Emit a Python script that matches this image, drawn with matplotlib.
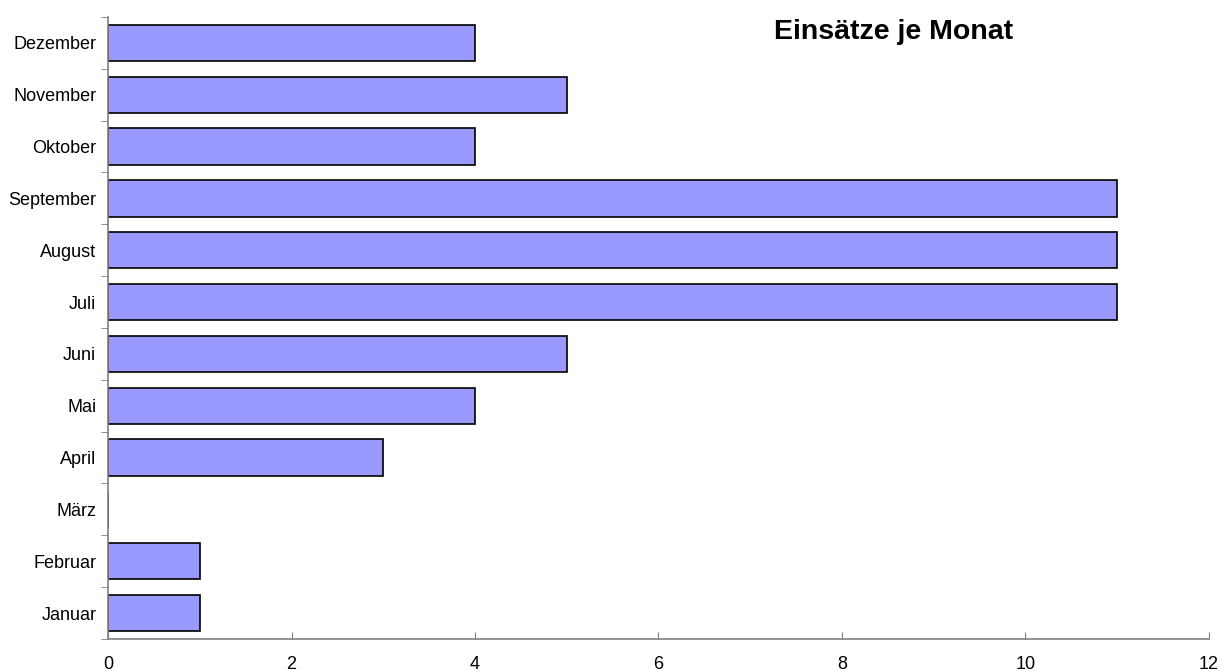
import matplotlib.pyplot as plt
import numpy as np

plt.rcParams['font.family'] = ['Liberation Sans', 'DejaVu Sans']

monate = ['Januar', 'Februar', 'März', 'April', 'Mai', 'Juni', 'Juli',
          'August', 'September', 'Oktober', 'November', 'Dezember']
einsaetze = [1, 1, 0, 3, 4, 5, 11, 11, 11, 4, 5, 4]
x_ticks = [0, 2, 4, 6, 8, 10, 12]

fig = plt.figure(figsize=(12.21, 6.71), dpi=100)
ax = fig.add_axes([0.0885, 0.0477, 0.9015, 0.927])

pos = np.arange(len(monate))
ax.barh(pos, einsaetze, height=0.7, color='#9999ff', edgecolor='black', linewidth=1.2)

ax.set_xlim(0, 12)
ax.set_ylim(-0.5, len(monate) - 0.5)
ax.set_xticks(x_ticks)
ax.set_xticklabels([str(t) for t in x_ticks], fontsize=13)

# Beschriftung in der Mitte, Striche zwischen den Kategorien
ax.set_yticks(pos)
ax.set_yticklabels(monate, fontsize=13)
ax.tick_params(axis='y', which='major', length=0, pad=8.5)
ax.set_yticks(np.arange(len(monate) + 1) - 0.5, minor=True)
ax.tick_params(axis='y', which='minor', length=5, direction='out', color='#808080')
ax.tick_params(axis='x', length=5, direction='in', color='#808080', pad=12)

for s in ['top', 'right']:
    ax.spines[s].set_visible(False)
for s in ['left', 'bottom']:
    ax.spines[s].set_color('#808080')
    ax.spines[s].set_linewidth(1.2)

fig.text(0.732, 0.953, 'Einsätze je Monat', fontsize=20.5, fontweight='bold',
         ha='center', va='center')

fig.savefig('out.png', dpi=100)
